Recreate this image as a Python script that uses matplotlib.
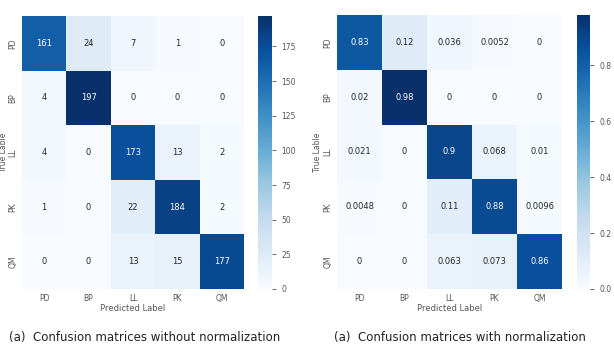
import matplotlib
matplotlib.use("Agg")
import matplotlib.pyplot as plt
import numpy as np
import seaborn as sns

labels = ["PD", "BP", "LL", "PK", "QM"]
counts = [
    [161, 24, 7, 1, 0],
    [4, 197, 0, 0, 0],
    [4, 0, 173, 13, 2],
    [1, 0, 22, 184, 2],
    [0, 0, 13, 15, 177],
]
normed = [
    [0.83, 0.12, 0.036, 0.0052, 0],
    [0.02, 0.98, 0, 0, 0],
    [0.021, 0, 0.9, 0.068, 0.01],
    [0.0048, 0, 0.11, 0.88, 0.0096],
    [0, 0, 0.063, 0.073, 0.86],
]
captions = ["(a)  Confusion matrices without normalization",
            "(a)  Confusion matrices with normalization"]

plt.rcParams['font.family'] = ['DejaVu Sans']
W, H = 614, 347
fig = plt.figure(figsize=(W / 100, H / 100), dpi=100)

def ax_rect(x0, y0, x1, y1):
    return [x0 / W, 1 - y1 / H, (x1 - x0) / W, (y1 - y0) / H]

panels = [
    (counts, "d", (22, 16, 244, 289), (258, 16, 272, 289), 8.5, 145),
    (normed, ".2g", (337, 15, 562, 289), (577, 15, 590, 289), 322, 460),
]
tc = "#555555"
for (data, fmt, hr, cr, ylx, capx), cap in zip(panels, captions):
    ax = fig.add_axes(ax_rect(*hr))
    cax = fig.add_axes(ax_rect(*cr))
    sns.heatmap(np.array(data), annot=True, fmt=fmt, cmap="Blues", ax=ax, cbar_ax=cax,
                xticklabels=labels, yticklabels=labels,
                annot_kws={"fontsize": 6})
    ax.tick_params(axis='both', labelsize=5.5, colors=tc, length=0, pad=3.5)
    for t in ax.get_yticklabels():
        t.set_rotation(90)
        t.set_va('center')
    ax.set_xlabel("Predicted Label", fontsize=6, color=tc, labelpad=1)
    ax.set_ylabel("True Lable", fontsize=5.5, color=tc)
    ax.yaxis.set_label_coords((ylx - hr[0]) / (hr[2] - hr[0]), 0.5)
    cax.tick_params(labelsize=5.5, colors=tc, length=3, width=0.6)
    cax.set_frame_on(False)
    fig.text(capx / W, 1 - 337 / H, cap, ha='center', va='center', fontsize=8.5, color='#222222')

fig.savefig("out.png", dpi=100)
